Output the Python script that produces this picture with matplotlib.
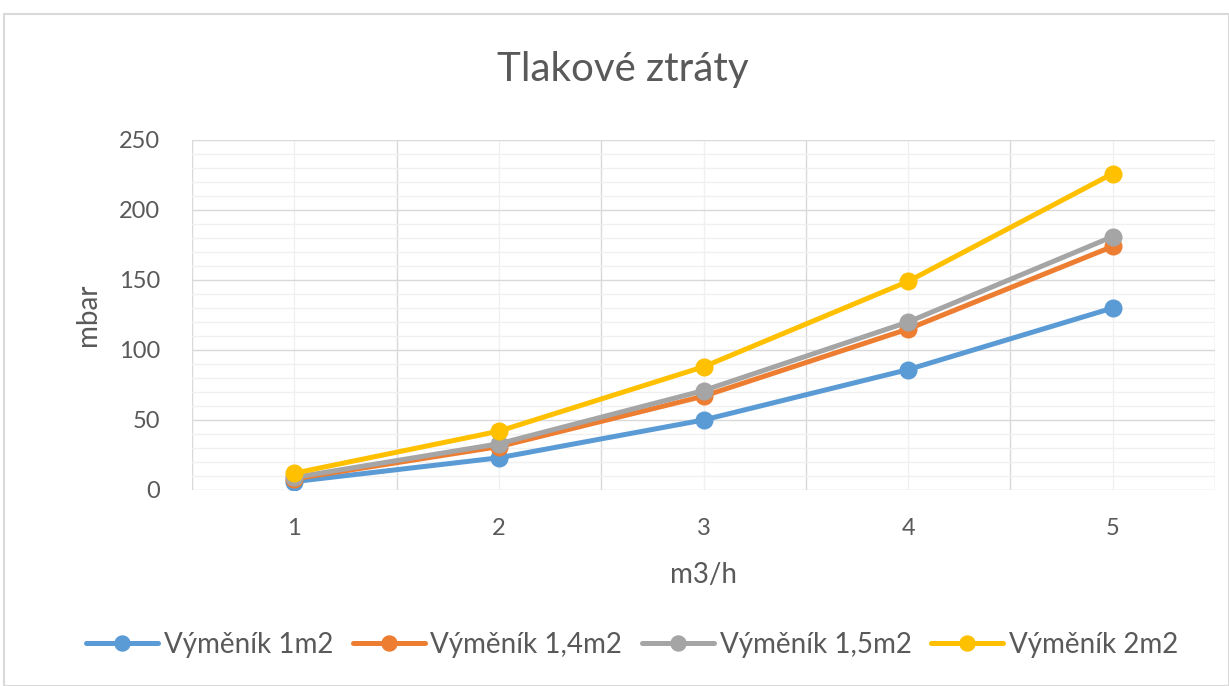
import matplotlib
matplotlib.use("Agg")
import matplotlib.pyplot as plt
from matplotlib.patches import Rectangle
from matplotlib.ticker import MultipleLocator

plt.rcParams['font.family'] = ['Lato', 'DejaVu Sans']

categories = ["1", "2", "3", "4", "5"]
series_names = ["Výměník 1m2", "Výměník 1,4m2", "Výměník 1,5m2", "Výměník 2m2"]
vals_1m2 = [6, 23, 50, 86, 130]
vals_14m2 = [8, 31, 67, 115, 174]
vals_15m2 = [9, 33, 71, 120, 181]
vals_2m2 = [12, 42, 88, 149, 226]
colors = ["#5B9BD5", "#ED7D31", "#A5A5A5", "#FFC000"]
text_color = "#595959"

W, H = 1229, 686
fig = plt.figure(figsize=(W / 100, H / 100), dpi=100)
fig.patch.set_facecolor("white")
fig.patches.append(Rectangle((4 / W, 0), (W - 4) / W, (H - 14) / H, transform=fig.transFigure,
                             fill=False, edgecolor="#d9d9d9", linewidth=1.5))

ax = fig.add_axes([192 / W, 1 - 490 / H, (1215 - 192) / W, (490 - 140) / H])
x = list(range(1, len(categories) + 1))
for vals, name, c in zip([vals_1m2, vals_14m2, vals_15m2, vals_2m2], series_names, colors):
    ax.plot(x, vals, color=c, linewidth=3.6, marker="o", markersize=12, label=name,
            solid_capstyle="round", solid_joinstyle="round")

ax.set_xlim(0.5, len(categories) + 0.5)
ax.set_ylim(0, 250)
ax.yaxis.set_major_locator(MultipleLocator(50))
ax.yaxis.set_minor_locator(MultipleLocator(10))
ax.set_xticks([i + 0.5 for i in range(0, len(categories) + 1)])
ax.set_xticks(x, minor=True)
ax.set_xticklabels([])
ax.set_xticklabels(categories, minor=True)
ax.grid(which="major", color="#d9d9d9", linewidth=1.0)
ax.grid(which="minor", color="#f0f0f0", linewidth=1.0)
ax.set_axisbelow(True)
for s in ax.spines.values():
    s.set_visible(False)
ax.tick_params(which="both", length=0, labelsize=17, labelcolor=text_color)
ax.tick_params(axis="x", which="minor", pad=20)
ax.tick_params(axis="y", pad=23)

fig.text(623 / W, 1 - 70 / H, "Tlakové ztráty", fontsize=29, color=text_color,
         ha="center", va="center")
ax.set_ylabel("mbar", fontsize=20, color=text_color, labelpad=13)
ax.set_xlabel("m3/h", fontsize=20, color=text_color, labelpad=17)

fig.legend(loc="center", bbox_to_anchor=(632 / W, 1 - 645 / H), ncol=4, frameon=False,
           fontsize=20, labelcolor=text_color, handlelength=2.6, columnspacing=0.7,
           handletextpad=0.2, markerscale=0.9)

fig.savefig("out.png", dpi=100, facecolor="white")
